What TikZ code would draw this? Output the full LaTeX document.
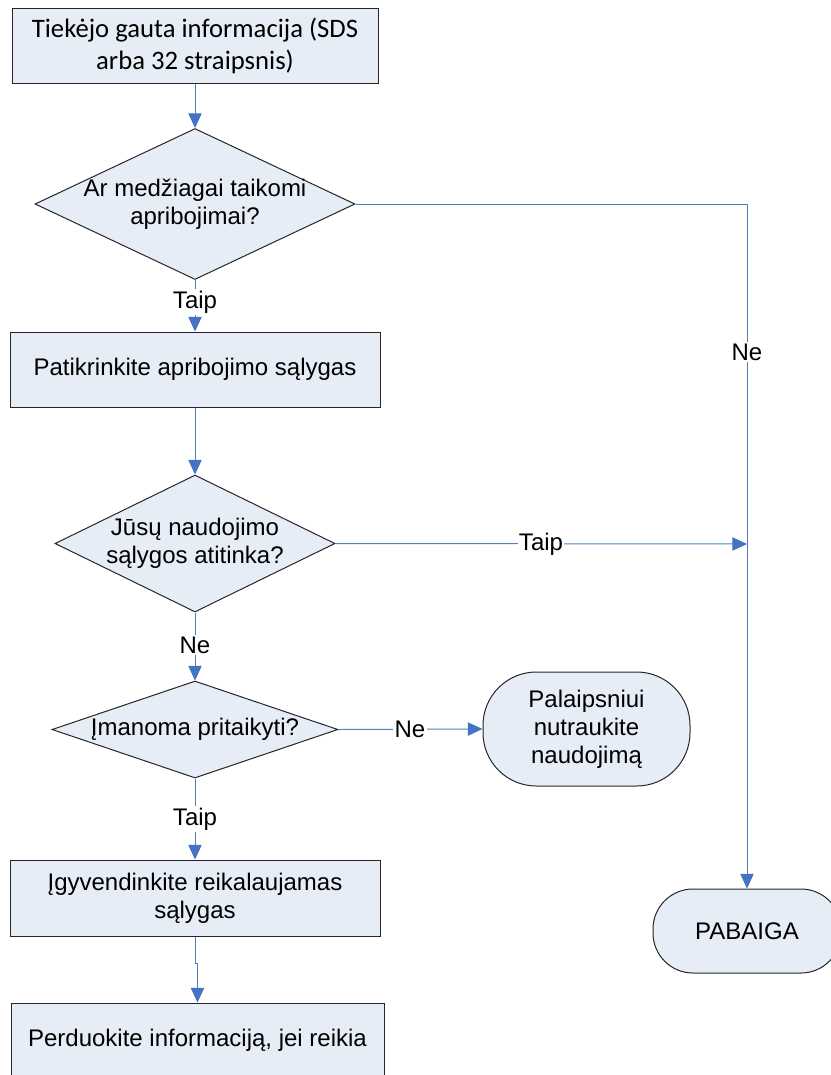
\documentclass[tikz,border=0pt]{standalone}
\usepackage{fontspec}
\setmainfont{Liberation Sans}
\newfontfamily\carl{Carlito}
\usetikzlibrary{shapes.geometric,arrows.meta}
\definecolor{fillc}{RGB}{231,237,247}
\definecolor{linec}{RGB}{79,129,189}
\definecolor{arrc}{RGB}{68,114,196}
\begin{document}
\begin{tikzpicture}[x=0.75pt,y=-0.75pt,
  box/.style={draw=black!85, fill=fillc, line width=0.75pt, minimum height=56.25pt, inner sep=0pt, align=center, font=\fontsize{18}{21}\selectfont},
  dia/.style={shape=diamond, draw=black!85, fill=fillc, line width=0.75pt, inner sep=0pt},
  term/.style={draw=black!85, fill=fillc, line width=0.75pt, inner sep=0pt, align=center, font=\fontsize{18}{21}\selectfont},
  txt/.style={align=center, font=\fontsize{18}{21}\selectfont, inner sep=0pt},
  lbl/.style={fill=white, inner sep=1pt, font=\fontsize{18}{21}\selectfont},
  conn/.style={draw=linec, line width=0.75pt},
  arr/.style={conn, -{Triangle[length=11pt,width=10pt,color=arrc]}}
]
\useasboundingbox (0,0) rectangle (831,1075);
% nodes
\node[box, minimum width=274.5pt, font=\carl\fontsize{20}{24}\selectfont] (b1) at (195,45.5) {Tiekėjo gauta informacija (SDS\\arba 32 straipsnis)};
\node[dia, minimum width=240pt, minimum height=113.25pt] (d1) at (195,204) {};
\node[txt] (d1t) at (195,204) {Ar medžiagai taikomi\\apribojimai?};
\node[box, minimum width=277.5pt] (b2) at (195,369.5) {Patikrinkite apribojimo sąlygas};
\node[dia, minimum width=210pt, minimum height=102.75pt] (d2) at (195,543.5) {};
\node[txt] (d2t) at (195,543.5) {Jūsų naudojimo\\sąlygos atitinka?};
\node[dia, minimum width=214.5pt, minimum height=72.75pt] (d3) at (195,729.5) {};
\node[txt] (d3t) at (195,729.5) {Įmanoma pritaikyti?};
\node[term, rounded corners=40pt, minimum width=155.25pt, minimum height=85.5pt] (t1) at (586.5,729) {Palaipsniui\\nutraukite\\naudojimą};
\node[box, minimum width=277.5pt, minimum height=57pt] (b3) at (195,898) {Įgyvendinkite reikalaujamas\\sąlygas};
\node[box, minimum width=279.75pt] (b4) at (197.5,1040.5) {Perduokite informaciją, jei reikia};
\node[term, rounded corners=30pt, minimum width=141pt, minimum height=63pt] (t2) at (747,931) {PABAIGA};
\coordinate (j) at (747,544);
\coordinate (k) at (195,963);
% connectors
\draw[arr] (b1.south) -- (d1.north);
\draw[arr] (d1.east) -| (t2.north);
\draw[arr] (d1.south) -- (b2.north);
\draw[arr] (b2.south) -- (d2.north);
\draw[arr] (d2.east) -- (j);
\draw[arr] (d2.south) -- (d3.north);
\draw[arr] (d3.east) -- (t1.west);
\draw[arr] (d3.south) -- (b3.north);
\draw[arr] (b3.south) -- (k) -| (b4.north);
% labels
\node[lbl] (l1) at (747,352) {Ne};
\node[lbl] (l2) at (195,302) {Taip};
\node[lbl] (l3) at (541,544) {Taip};
\node[lbl] (l4) at (195,645) {Ne};
\node[lbl] (l5) at (410,729) {Ne};
\node[lbl] (l6) at (195,819) {Taip};
\end{tikzpicture}
\end{document}
